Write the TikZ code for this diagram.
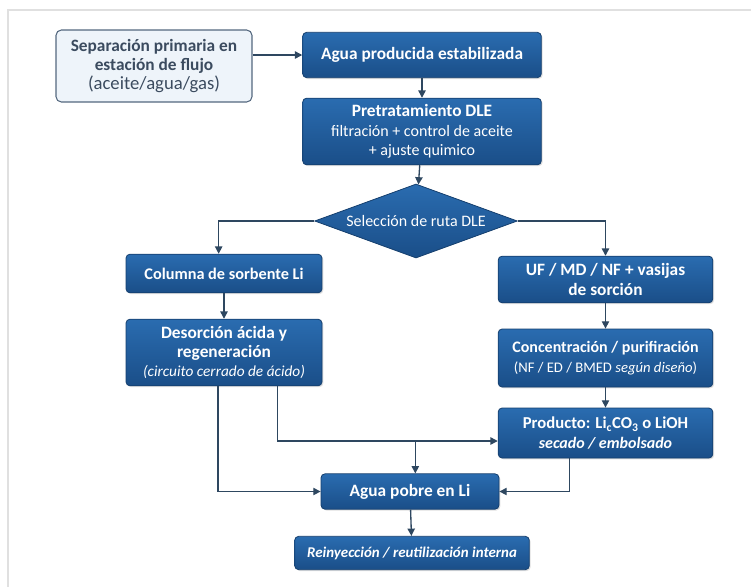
\documentclass[tikz,border=0pt]{standalone}
\usepackage{fontspec}
\setmainfont{Carlito}
\usetikzlibrary{shapes.geometric,arrows.meta,shadows}
\definecolor{boxtop}{HTML}{2A6CB0}
\definecolor{boxbot}{HTML}{1A4E88}
\definecolor{boxedge}{HTML}{153F6E}
\definecolor{linecol}{HTML}{2E4760}
\definecolor{palebox}{HTML}{EEF4FA}
\definecolor{paleedge}{HTML}{54687F}
\definecolor{paletext}{HTML}{3B4B5F}
\newcommand{\fsz}[1]{\fontsize{#1}{14.5}\selectfont}

\begin{document}
\begin{tikzpicture}[x=0.75pt, y=-0.75pt,
  blk/.style={draw=boxedge, line width=0.6pt, top color=boxtop, bottom color=boxbot,
    rounded corners=3pt, text=white, align=center, inner sep=0pt,
    font=\fsz{13},
    drop shadow={opacity=0.25, shadow xshift=1pt, shadow yshift=-1pt}},
  pale/.style={draw=paleedge, line width=0.8pt, fill=palebox, rounded corners=4pt,
    text=paletext, align=center, inner sep=0pt, font=\fsz{13}},
  ruta/.style={diamond, aspect=2.75, draw=boxedge, line width=0.6pt,
    top color=boxtop, bottom color=boxbot, text=white, inner sep=0pt,
    font=\fsz{12}},
  flow/.style={draw=linecol, line width=1pt, -{Triangle[length=5.5pt,width=5.5pt]}}]

  \useasboundingbox (0,0) rectangle (751,587);
  \draw[black!12, line width=0.8pt] (8,587) -- (8,10) -- (751,10);

  % nodes
  \node[pale, minimum width=147pt, minimum height=54pt] (sep) at (154,66)
    {\textbf{Separación primaria en}\\\textbf{estación de flujo}\\{\fsz{14}(aceite/agua/gas)}};
  \node[blk, minimum width=179pt, minimum height=34pt] (agua) at (422,55)
    {\textbf{Agua producida estabilizada}};
  \node[blk, minimum width=179pt, minimum height=50pt] (pre) at (422,131.5)
    {\textbf{Pretratamiento DLE}\\{\fsz{12}filtración + control de aceite}\\{\fsz{12}+ ajuste quimico}};
  \node[ruta, minimum width=152pt, minimum height=55.5pt] (sel) at (416,221)
    {Selección de ruta DLE};
  \node[blk, minimum width=147pt, minimum height=29pt] (col) at (224,273.5)
    {\fsz{12.2}\textbf{Columna de sorbente Li}};
  \node[blk, minimum width=147pt, minimum height=50pt] (des) at (224,352.5)
    {\textbf{Desorción ácida y}\\\textbf{regeneración}\\{\fsz{11.5}\textit{(circuito cerrado de ácido)}}};
  \node[blk, minimum width=161pt, minimum height=35pt] (uf) at (605.5,279.5)
    {\textbf{UF / MD / NF + vasijas}\\\textbf{de sorción}};
  \node[blk, minimum width=161pt, minimum height=43.5pt] (con) at (605.5,358)
    {{\fsz{12}\textbf{Concentración / purifiración}}\\{\fsz{11}(NF / ED / BMED \textit{según diseño})}};
  \node[blk, minimum width=161pt, minimum height=37.5pt] (pro) at (605.5,433)
    {{\fsz{12.5}\textbf{Producto: Li\textsubscript{c}CO\textsubscript{3} o LiOH}}\\{\fsz{12}\textbf{\textit{secado / embolsado}}}};
  \node[blk, minimum width=133.5pt, minimum height=26.5pt] (pob) at (410,491.5)
    {\textbf{Agua pobre en Li}};
  \node[blk, minimum width=176pt, minimum height=25pt] (rei) at (412,553)
    {\fsz{11.2}\textbf{\textit{Reinyección / reutilización interna}}};

  % connectors
  \draw[flow] (sep.east |- agua.west) -- (agua.west);
  \draw[flow] (agua) -- (pre);
  \draw[flow] (pre) -- (sel);
  \draw[flow] (sel.west) -| ([xshift=-4pt]col.north);
  \draw[flow] (sel.east) -| (uf.north);
  \draw[flow] (col) -- (des);
  \draw[flow] (uf) -- (con);
  \draw[flow] (con) -- (pro);
  \coordinate (mid) at ([yshift=-6pt]pro.west);
  \draw[flow] ([xshift=-4.5pt]des.south) |- (pob.west);
  \draw[flow] ([xshift=40pt]des.south) |- (mid);
  \draw[flow] ([xshift=4pt]pob.north |- mid) -- ([xshift=4pt]pob.north);
  \draw[flow] ([xshift=-27pt]pro.south) |- (pob.east);
  \draw[flow] (pob) -- (rei);
\end{tikzpicture}
\end{document}
